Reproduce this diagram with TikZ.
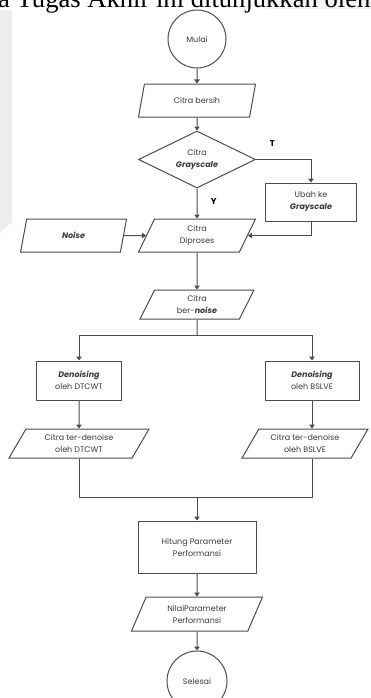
\documentclass[tikz,border=0pt]{standalone}
\usepackage{fontspec}
\setmainfont{Poppins}
\newfontfamily\serifhead{Liberation Serif}
\usetikzlibrary{arrows.meta,positioning,shapes.geometric}

\definecolor{lineg}{HTML}{4D4D4D}
\definecolor{textg}{HTML}{3A3A3A}
\definecolor{paneg}{HTML}{EDEDF0}
\newcommand{\bemph}[1]{\textbf{\textit{#1}}}

\begin{document}
\begin{tikzpicture}[
    x=1pt, y=1pt,
    >={Triangle[width=5.5pt,length=4pt]},
    font=\fontsize{8}{12}\selectfont,
    every node/.style={text=textg},
    term/.style={draw=lineg, line width=1pt, circle, minimum size=58pt, inner sep=0pt},
    para/.style={
        draw=lineg, line width=1pt,
        trapezium,
        trapezium left angle=54,
        trapezium right angle=126,
        trapezium stretches body,
        minimum height=33pt, inner sep=1pt,
        align=center
    },
    box/.style={draw=lineg, line width=1pt, rectangle, inner sep=1pt, align=center},
    diam/.style={draw=lineg, line width=1pt, diamond, aspect=2, inner sep=0pt,
        minimum width=117pt, minimum height=57pt, align=center},
    flow/.style={->, draw=lineg, line width=1pt},
    yn/.style={font=\bfseries\fontsize{8.5}{10}\selectfont, text=black},
]
\useasboundingbox (0,0) rectangle (371,-698);
\clip (0,0) rectangle (371,-698);

% sisa halaman di belakang bagan
\fill[paneg] (0,-10) -- (12,-10) -- (12,-222) -- (0,-233) -- cycle;
\fill[paneg] (58,0) rectangle (63,-10);
\fill[paneg!60] (265,0) rectangle (371,-9);
\node[anchor=base west, inner sep=0pt, text=black,
      font=\serifhead\fontsize{26.6}{30}\selectfont] (judul) at (-2,-8)
      {a Tugas Akhir ini ditunjukkan oleh};

\node[term] (mulai) at (197,-39) {Mulai};
\node[para, minimum width=117pt, below=15pt of mulai] (bersih) {Citra bersih};
\node[diam, below=13pt of bersih] (cek) {Citra\\\bemph{Grayscale}};
\node[box, minimum width=91pt, minimum height=38pt,
      right=9pt of cek, yshift=-42.5pt] (ubah) {Ubah ke\\\bemph{Grayscale}};
\node[para, minimum width=117pt, below=30pt of cek] (proses) {Citra\\Diproses};
\node[para, minimum width=106pt, left=22pt of proses] (noise) {\bemph{Noise}};
\node[para, minimum width=114pt, minimum height=29pt, below=37pt of proses] (noisy)
      {Citra\\ber-\bemph{noise}};

% dua cabang denoising
\node[box, minimum width=85pt, minimum height=39pt,
      below=41pt of noisy, xshift=-118pt] (dtcwt) {\bemph{Denoising}\\oleh DTCWT};
\node[box, minimum width=94pt, minimum height=39pt,
      below=41pt of noisy, xshift=115pt] (bslve) {\bemph{Denoising}\\oleh BSLVE};
\node[para, minimum width=140pt, minimum height=29pt,
      trapezium left angle=50, trapezium right angle=130,
      below=28pt of dtcwt] (outl) {Citra ter-denoise\\oleh DTCWT};
\node[para, minimum width=126pt, minimum height=29pt,
      trapezium left angle=50, trapezium right angle=130,
      below=28pt of bslve, xshift=-7pt] (outr) {Citra ter-denoise\\oleh BSLVE};

\node[box, minimum width=118pt, minimum height=52pt, below=201pt of noisy] (hitung)
      {Hitung Parameter\\Performansi};
\node[para, minimum width=131pt, minimum height=34pt, below=23pt of hitung] (nilai)
      {NilaiParameter\\Performansi};
\node[term, minimum size=60pt, below=19pt of nilai] (selesai) {Selesai};

\coordinate[below=16pt of noisy] (pisah);
\coordinate[above=23pt of hitung] (gabung);

\draw[flow] (mulai) -- (bersih);
\draw[flow] (bersih) -- (cek);
\draw[flow] (cek) -- node[yn, right=10pt, pos=0.45] {Y} (proses);
\draw[flow] (cek.east) -| node[yn, pos=0.15, above=9pt] {T} (ubah.north);
\draw[flow] (ubah.south) |- (proses.east);
\draw[flow] (noise) -- (proses);
\draw[flow] (proses) -- (noisy);
\draw[lineg, line width=1pt] (noisy) -- (pisah);
\draw[flow] (pisah) -| (dtcwt);
\draw[flow] (pisah) -| (bslve);
\draw[flow] (dtcwt) -- (outl);
\draw[flow] (bslve.south) -- (bslve.south |- outr.north);
\draw[lineg, line width=1pt] (outl.south) |- (gabung) -| (bslve.south |- outr.south);
\draw[flow] (gabung) -- (hitung);
\draw[flow] (hitung) -- (nilai);
\draw[flow] (nilai) -- (selesai);

\end{tikzpicture}
\end{document}
